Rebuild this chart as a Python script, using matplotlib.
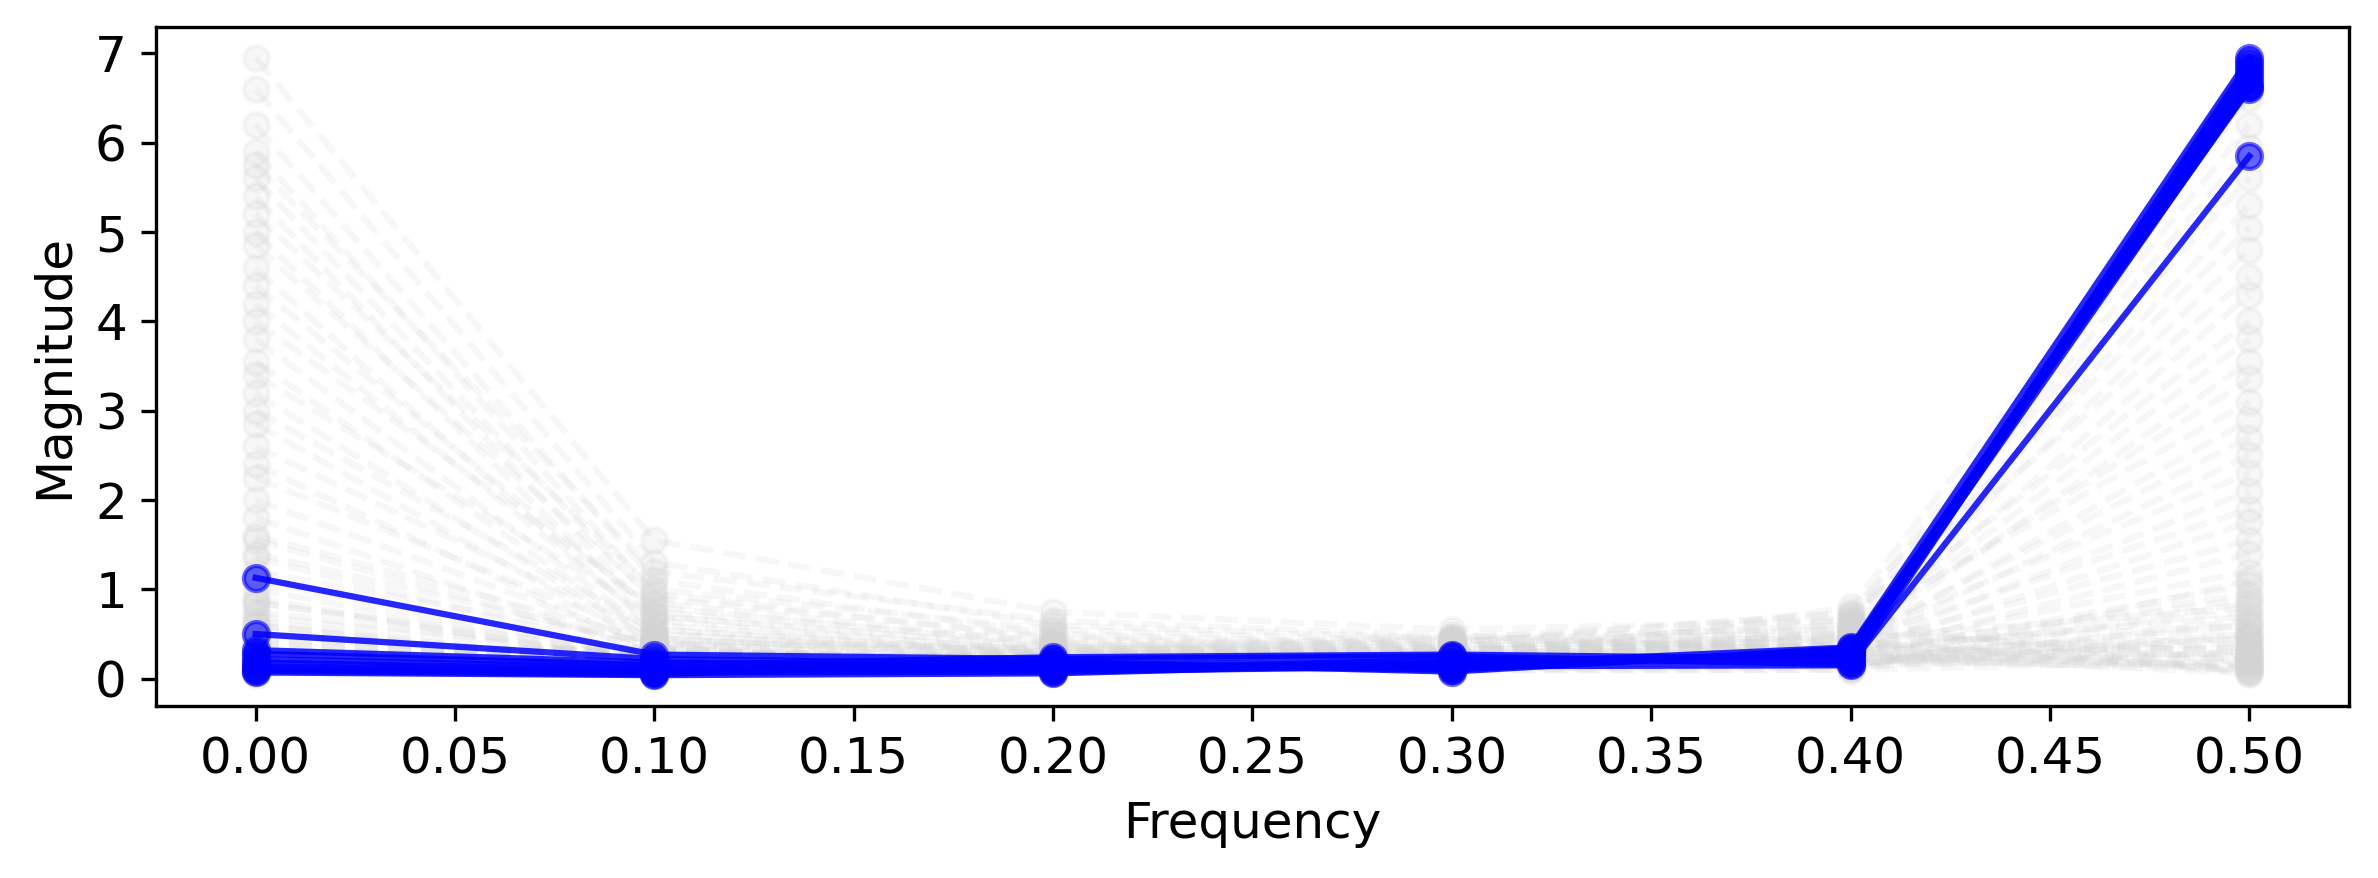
import numpy as np
import matplotlib
matplotlib.use("Agg")
import matplotlib.pyplot as plt

freqs = [0.0, 0.1, 0.2, 0.3, 0.4, 0.5]

# background series (gray), one array per frequency bin
gray_f00 = [6.95, 6.60, 6.20, 5.90, 5.75, 5.60, 5.40, 5.20, 5.00, 4.85,
            4.60, 4.40, 4.20, 4.00, 3.80, 3.55, 3.40, 3.20, 3.00, 2.85,
            2.60, 2.40, 2.25, 2.00, 1.80, 1.55, 1.35, 1.10, 0.85, 0.60,
            0.05, 0.40, 0.15, 0.90, 0.25, 0.60, 0.10, 1.20, 0.35, 0.20,
            0.75, 0.50, 0.08, 1.40, 0.30, 0.18, 0.65, 0.45, 0.12, 1.00,
            0.28, 0.55, 0.06, 0.85, 0.38, 0.22, 1.60, 0.15, 0.70, 0.42]
gray_f01 = [1.55, 1.30, 1.10, 0.95, 1.20, 0.85, 0.70, 1.00, 0.65, 0.90,
            0.55, 0.75, 0.60, 0.80, 0.50, 0.45, 0.70, 0.40, 0.55, 0.35,
            0.50, 0.30, 0.45, 0.38, 0.28, 0.32, 0.25, 0.22, 0.20, 0.18,
            0.12, 0.20, 0.30, 0.15, 0.35, 0.10, 0.25, 0.40, 0.18, 0.28,
            0.22, 0.14, 0.32, 0.38, 0.16, 0.26, 0.11, 0.24, 0.30, 0.19,
            0.36, 0.13, 0.21, 0.27, 0.17, 0.33, 0.42, 0.15, 0.23, 0.29]
gray_f02 = [0.75, 0.60, 0.50, 0.45, 0.65, 0.40, 0.35, 0.55, 0.30, 0.48,
            0.28, 0.42, 0.32, 0.38, 0.26, 0.24, 0.36, 0.22, 0.30, 0.20,
            0.28, 0.18, 0.25, 0.22, 0.16, 0.20, 0.15, 0.14, 0.12, 0.12,
            0.14, 0.22, 0.18, 0.30, 0.12, 0.26, 0.20, 0.34, 0.16, 0.24,
            0.28, 0.10, 0.19, 0.32, 0.23, 0.15, 0.27, 0.21, 0.13, 0.29,
            0.17, 0.25, 0.11, 0.31, 0.20, 0.18, 0.35, 0.14, 0.26, 0.22]
gray_f03 = [0.55, 0.45, 0.38, 0.35, 0.48, 0.30, 0.28, 0.42, 0.25, 0.36,
            0.22, 0.33, 0.26, 0.30, 0.20, 0.18, 0.28, 0.17, 0.24, 0.15,
            0.22, 0.14, 0.20, 0.18, 0.12, 0.16, 0.12, 0.11, 0.10, 0.09,
            0.18, 0.28, 0.22, 0.40, 0.15, 0.33, 0.25, 0.45, 0.20, 0.30,
            0.36, 0.12, 0.24, 0.42, 0.27, 0.19, 0.34, 0.26, 0.16, 0.38,
            0.21, 0.31, 0.14, 0.44, 0.23, 0.20, 0.48, 0.17, 0.35, 0.29]
gray_f04 = [0.65, 0.50, 0.42, 0.38, 0.55, 0.32, 0.30, 0.45, 0.28, 0.40,
            0.25, 0.35, 0.28, 0.33, 0.22, 0.20, 0.30, 0.18, 0.26, 0.16,
            0.24, 0.15, 0.22, 0.20, 0.14, 0.18, 0.13, 0.12, 0.10, 0.10,
            0.80, 0.70, 0.62, 0.75, 0.55, 0.66, 0.50, 0.72, 0.45, 0.58,
            0.48, 0.40, 0.52, 0.60, 0.38, 0.44, 0.35, 0.46, 0.32, 0.42,
            0.30, 0.36, 0.28, 0.34, 0.26, 0.25, 0.30, 0.22, 0.24, 0.20]
gray_f05 = [0.05, 0.30, 0.10, 0.60, 0.20, 0.45, 0.15, 0.80, 0.35, 0.08,
            0.55, 0.25, 0.12, 0.70, 0.40, 0.18, 0.95, 0.28, 0.06, 0.50,
            0.22, 0.65, 0.10, 0.38, 0.85, 0.15, 0.30, 0.48, 0.20, 1.10,
            6.50, 6.20, 5.95, 5.60, 5.30, 5.05, 4.80, 4.50, 4.30, 4.00,
            3.80, 3.55, 3.35, 3.10, 2.90, 2.70, 2.50, 2.30, 2.10, 1.90,
            1.75, 1.55, 1.40, 1.20, 1.05, 0.90, 0.75, 0.60, 0.45, 0.30]

# highlighted series (blue)
blue_f00 = [1.13, 0.50, 0.32, 0.28, 0.22, 0.18, 0.14, 0.11, 0.09, 0.07]
blue_f01 = [0.27, 0.22, 0.18, 0.15, 0.12, 0.10, 0.08, 0.07, 0.05, 0.04]
blue_f02 = [0.22, 0.16, 0.14, 0.24, 0.12, 0.10, 0.17, 0.08, 0.19, 0.06]
blue_f03 = [0.25, 0.18, 0.15, 0.27, 0.12, 0.21, 0.10, 0.14, 0.08, 0.18]
blue_f04 = [0.16, 0.27, 0.35, 0.22, 0.30, 0.20, 0.32, 0.15, 0.34, 0.26]
blue_f05 = [5.85, 6.70, 6.95, 6.62, 6.75, 6.90, 6.65, 6.80, 6.60, 6.85]


def main():
    plt.rcParams['font.size'] = 12
    fig = plt.figure(figsize=(2378 / 300, 878 / 300), dpi=300)
    ax = fig.add_axes([0.0656, 0.1959, 0.9222, 0.7733])

    gray = np.array([gray_f00, gray_f01, gray_f02, gray_f03, gray_f04, gray_f05])
    for k in range(gray.shape[1]):
        ax.plot(freqs, gray[:, k], 'o--', color='lightgray', alpha=0.18)

    blue = np.array([blue_f00, blue_f01, blue_f02, blue_f03, blue_f04, blue_f05])
    for k in range(blue.shape[1]):
        ax.plot(freqs, blue[:, k], '-', color='blue', alpha=0.85)
        ax.plot(freqs, blue[:, k], 'o', color='blue', alpha=0.6)

    ax.set_xlabel('Frequency')
    ax.set_ylabel('Magnitude')
    ax.set_xticks(np.arange(0, 0.51, 0.05))
    ax.set_yticks(range(0, 8))

    fig.savefig('out.png', dpi=300)


if __name__ == "__main__":
    main()
